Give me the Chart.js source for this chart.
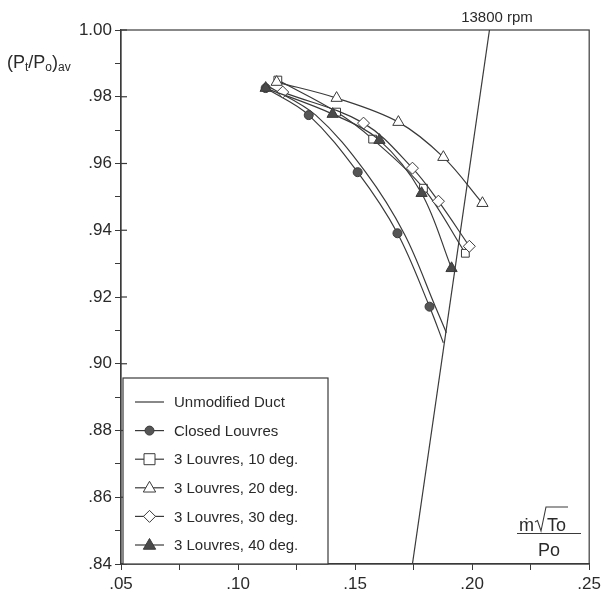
<!DOCTYPE html>
<html>
<head>
<meta charset="utf-8">
<script src="https://cdn.jsdelivr.net/npm/chart.js@4.4.0/dist/chart.umd.min.js"></script>
<style>
html, body { margin: 0; padding: 0; background: #fff; }
canvas { display: block; }
</style>
</head>
<body>
<canvas id="c" width="605" height="601"></canvas>
<script>
// data: mass flow parameter vs (Pt/Po)av
var unmodX  = [0.1127, 0.1332, 0.1545, 0.1711, 0.1843, 0.1890];
var unmodY  = [0.9832, 0.9745, 0.9574, 0.9388, 0.9171, 0.9093];
var closedX = [0.1118, 0.1302, 0.1511, 0.1681, 0.1818, 0.1877];
var closedY = [0.9826, 0.9745, 0.9574, 0.9391, 0.9171, 0.9063];
var lv10X = [0.1170, 0.1421, 0.1575, 0.1792, 0.1971];
var lv10Y = [0.9850, 0.9754, 0.9673, 0.9526, 0.9331];
var lv20X = [0.1165, 0.1421, 0.1685, 0.1877, 0.2044];
var lv20Y = [0.9844, 0.9796, 0.9724, 0.9619, 0.9481];
var lv30X = [0.1191, 0.1536, 0.1745, 0.1856, 0.1988];
var lv30Y = [0.9814, 0.9721, 0.9586, 0.9487, 0.9352];
var lv40X = [0.1118, 0.1404, 0.1604, 0.1784, 0.1912];
var lv40Y = [0.9826, 0.9748, 0.9670, 0.9511, 0.9286];
var rpmX = [0.1745, 0.2074];
var rpmY = [0.84, 1.00];
var rpmLabel = '13800 rpm';
var seriesNames = ['Unmodified Duct', 'Closed Louvres', '3 Louvres, 10 deg.', '3 Louvres, 20 deg.', '3 Louvres, 30 deg.', '3 Louvres, 40 deg.'];

function pts(xs, ys) { return xs.map(function(x, i) { return { x: x, y: ys[i] }; }); }

var ink = '#3a3a3a';
var FONT = '"Liberation Sans", Arial, sans-serif';
Chart.defaults.font.family = FONT;
Chart.defaults.color = '#2a2a2a';

var styles = [
    { style: null },
    { style: 'circle', r: 4.5, fill: '#555' },
    { style: 'rect', r: 5.5, fill: '#fff' },
    { style: 'triangle', r: 6.5, fill: '#fff' },
    { style: 'rectRot', r: 6, fill: '#fff' },
    { style: 'triangle', r: 6.5, fill: '#4a4a4a' }
];

function mark(ctx, st, x, y) {
    if (!st.style) return;
    var r = st.r;
    ctx.beginPath();
    if (st.style === 'circle') {
        ctx.arc(x, y, r, 0, Math.PI * 2);
    } else if (st.style === 'rect') {
        ctx.rect(x - r, y - r, r * 2, r * 2);
    } else if (st.style === 'triangle') {
        ctx.moveTo(x, y - r);
        ctx.lineTo(x + r * 0.95, y + r * 0.65);
        ctx.lineTo(x - r * 0.95, y + r * 0.65);
        ctx.closePath();
    } else if (st.style === 'rectRot') {
        ctx.moveTo(x, y - r); ctx.lineTo(x + r, y); ctx.lineTo(x, y + r); ctx.lineTo(x - r, y);
        ctx.closePath();
    }
    ctx.fillStyle = st.fill; ctx.fill();
    ctx.strokeStyle = ink; ctx.lineWidth = 1; ctx.stroke();
}

var extras = {
    id: 'extras',
    afterDraw: function(chart) {
        var ctx = chart.ctx, a = chart.chartArea;
        var ys = chart.scales.y;
        ctx.save();
        ctx.strokeStyle = ink; ctx.lineWidth = 1.2;
        ctx.strokeRect(a.left, a.top, a.right - a.left, a.bottom - a.top);
        // major y ticks cross the axis
        for (var k = 84; k <= 100; k += 2) {
            var py = ys.getPixelForValue(k / 100);
            ctx.beginPath(); ctx.moveTo(a.left, py); ctx.lineTo(a.left + 6, py); ctx.stroke();
        }

        // y title (Pt/Po)av
        ctx.fillStyle = '#2a2a2a';
        ctx.textBaseline = 'alphabetic';
        var x = 7, yb = 68;
        function put(t, size, dy) {
            ctx.font = size + 'px ' + FONT;
            ctx.fillText(t, x, yb + dy);
            x += ctx.measureText(t).width;
        }
        put('(P', 18, 0); put('t', 12, 3); put('/P', 18, 0); put('o', 12, 3); put(')', 18, 0); put('av', 12, 3);

        // rpm label
        ctx.font = '15px ' + FONT;
        ctx.textAlign = 'center';
        ctx.fillText(rpmLabel, 497, 22);

        // x title fraction m.sqrt(To)/Po
        ctx.textAlign = 'left';
        ctx.font = '18px ' + FONT;
        var nx = 519, nb = 531;
        ctx.fillText('\u1E41', nx, nb);
        nx += ctx.measureText('\u1E41').width + 1;
        ctx.lineWidth = 1.1;
        ctx.beginPath();
        ctx.moveTo(nx, 522); ctx.lineTo(nx + 2.5, 520.5); ctx.lineTo(nx + 6, 531);
        ctx.lineTo(nx + 11, 507); ctx.lineTo(nx + 12 + ctx.measureText('To').width + 2, 507);
        ctx.stroke();
        ctx.fillText('To', nx + 12, nb);
        ctx.beginPath(); ctx.moveTo(517, 533.5); ctx.lineTo(581, 533.5); ctx.stroke();
        ctx.textAlign = 'center';
        ctx.fillText('Po', 549, 556);

        // legend box
        ctx.fillStyle = '#fff';
        ctx.fillRect(123, 378, 205, a.bottom - 378);
        ctx.strokeStyle = ink; ctx.lineWidth = 1.2;
        ctx.strokeRect(123, 378, 205, a.bottom - 378);
        ctx.textAlign = 'left';
        ctx.textBaseline = 'middle';
        ctx.font = '15px ' + FONT;
        seriesNames.forEach(function(name, i) {
            var ly = 402 + i * 28.6;
            ctx.strokeStyle = ink; ctx.lineWidth = 1.2;
            ctx.beginPath(); ctx.moveTo(135, ly); ctx.lineTo(164, ly); ctx.stroke();
            mark(ctx, styles[i], 149.5, ly);
            ctx.fillStyle = '#2a2a2a';
            ctx.fillText(name, 174, ly + 1);
        });
        ctx.restore();
    }
};

function ds(label, xs, ys, i, radii) {
    var st = styles[i];
    return {
        label: label,
        data: pts(xs, ys),
        showLine: true,
        borderColor: ink,
        borderWidth: 1.2,
        tension: 0.35,
        pointStyle: st.style || 'circle',
        pointRadius: st.style ? (radii || st.r) : 0,
        pointBackgroundColor: st.fill || '#fff',
        pointBorderColor: ink,
        pointBorderWidth: 1,
        order: 6 - i
    };
}

var closedRadii = closedX.map(function(_, i) { return i === closedX.length - 1 ? 0 : 4.5; });

new Chart(document.getElementById('c').getContext('2d'), {
    type: 'scatter',
    data: {
        datasets: [
            ds(seriesNames[0], unmodX, unmodY, 0),
            ds(seriesNames[1], closedX, closedY, 1, closedRadii),
            ds(seriesNames[2], lv10X, lv10Y, 2),
            ds(seriesNames[3], lv20X, lv20Y, 3),
            ds(seriesNames[4], lv30X, lv30Y, 4),
            ds(seriesNames[5], lv40X, lv40Y, 5),
            { label: rpmLabel, data: pts(rpmX, rpmY), showLine: true, borderColor: ink, borderWidth: 1.2, pointRadius: 0, tension: 0 }
        ]
    },
    options: {
        responsive: false,
        animation: false,
        layout: { padding: { top: 30, right: 15, left: 0, bottom: 0 } },
        plugins: { legend: { display: false }, tooltip: { enabled: false } },
        scales: {
            x: {
                type: 'linear', min: 0.05, max: 0.25,
                afterFit: function(s) { s.height = 37; },
                grid: { drawOnChartArea: false, drawTicks: true, tickLength: 6, color: ink },
                border: { color: ink, width: 1.2 },
                ticks: {
                    stepSize: 0.025, autoSkip: false, maxRotation: 0, padding: 4,
                    font: { size: 17 },
                    callback: function(v) {
                        var k = Math.round(v * 1000);
                        if (k % 50) return '';
                        return '.' + String(k / 10).padStart(2, '0');
                    }
                }
            },
            y: {
                type: 'linear', min: 0.84, max: 1.00,
                afterFit: function(s) { s.width = 121; },
                grid: { drawOnChartArea: false, drawTicks: true, tickLength: 6, color: ink },
                border: { color: ink, width: 1.2 },
                ticks: {
                    stepSize: 0.01, autoSkip: false, padding: 3,
                    font: { size: 17 },
                    callback: function(v) {
                        var k = Math.round(v * 100);
                        if (k % 2) return '';
                        return k === 100 ? '1.00' : '.' + k;
                    }
                }
            }
        }
    },
    plugins: [extras]
});
</script>
</body>
</html>
